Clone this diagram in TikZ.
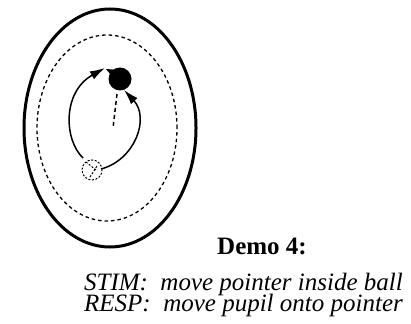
\documentclass[tikz,border=0pt]{standalone}
\usepackage{fontspec}
\setmainfont{Liberation Serif}
\usetikzlibrary{shapes.geometric,arrows.meta,calc}
\begin{document}
\begin{tikzpicture}[x=1pt,y=-1pt,
  outerring/.style={line width=3pt},
  innerring/.style={line width=1.3pt, dash pattern=on 3.5pt off 3pt},
  motion/.style={line width=1.5pt, -{Latex[length=15pt,width=9pt]}},
  hintline/.style={line width=1.5pt, dash pattern=on 4pt off 3pt},
  txt/.style={inner sep=0pt, font=\fontsize{25}{21}\selectfont}]
\useasboundingbox (0,0) rectangle (411,323);
% rings
\node[outerring, draw, ellipse, minimum width=172pt, minimum height=238pt, inner sep=0pt] (outer) at (110,128) {};
\node[innerring, draw, ellipse, minimum width=140pt, minimum height=186pt, inner sep=0pt] (inner) at (107,128) {};
% ball and pupil
\node[circle, fill=black, minimum size=23pt, inner sep=0pt] (ball) at (120,79) {};
\fill ($(ball.135)+(-1,4)$) -- (106,69) -- ($(ball.135)+(4,-1)$) -- cycle;
\node[circle, draw, line width=1pt, dash pattern=on 2pt off 1.6pt, minimum size=20pt, inner sep=0pt] (pupil) at (92,170) {};
\draw[line width=1pt, dash pattern=on 2pt off 1.6pt] (86,162) -- (96,170) (90,177) -- (97,166);
% connectors
\coordinate (lstart) at (83,158);
\coordinate (ltip) at (105,68);
\coordinate (rstart) at (101,169);
\coordinate (rtip) at (124,90);
\coordinate (hs) at (117,94);
\coordinate (he) at (113,128);
\draw[motion] (lstart) .. controls (64,140) and (62,92) .. (ltip);
\draw[motion] (rstart) .. controls (135,160) and (150,118) .. (rtip);
\draw[hintline] (hs) -- (he);
% text
\node[txt, anchor=base, font=\fontsize{25}{21}\selectfont\bfseries] (title) at (262,254) {Demo 4:};
\node[txt, anchor=base east, align=right, font={\fontsize{25}{21}\selectfont\lineskiplimit=-50pt\itshape}] (task) at (403,311) {STIM:\ \ move pointer inside ball\\RESP:\ \ move pupil onto pointer};
\end{tikzpicture}
\end{document}
